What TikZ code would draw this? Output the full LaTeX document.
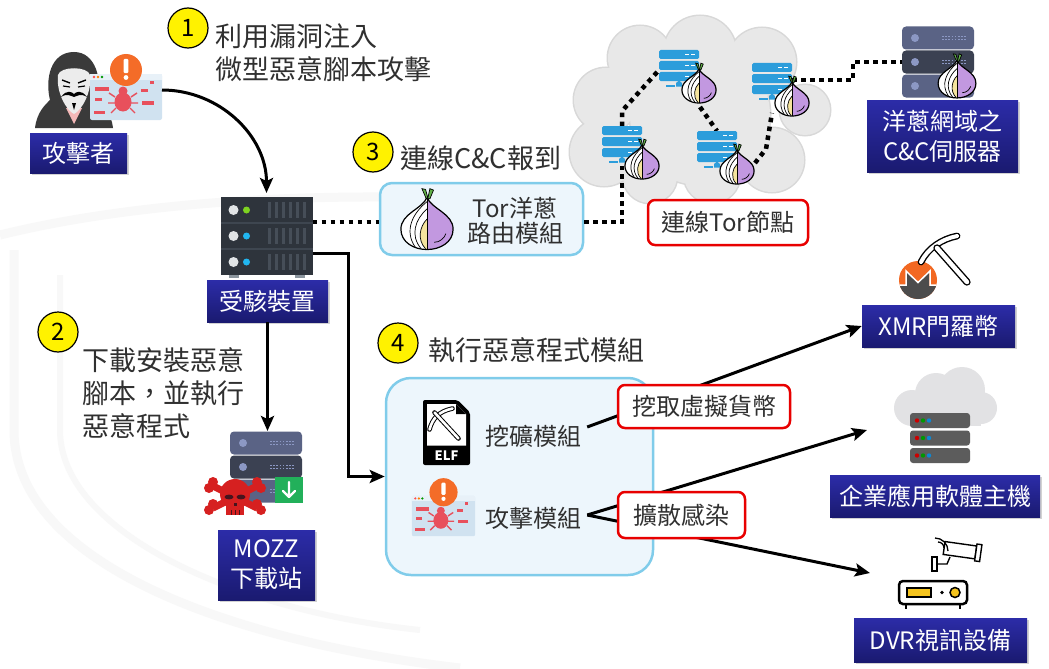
\documentclass[tikz,border=0pt]{standalone}
\usepackage{fontspec}
\setmainfont{Noto Sans CJK TC}
\usetikzlibrary{arrows.meta,calc,shadows}

\definecolor{navytop}{RGB}{44,44,168}
\definecolor{navybot}{RGB}{26,26,112}
\definecolor{modedge}{RGB}{128,204,234}
\definecolor{modfill}{RGB}{237,246,252}
\definecolor{torblue}{RGB}{44,157,219}
\definecolor{onionpurple}{RGB}{194,152,224}
\definecolor{onionyellow}{RGB}{245,228,158}
\definecolor{sprout}{RGB}{96,176,72}
\definecolor{txtgray}{RGB}{48,48,48}
\definecolor{cloudgray}{RGB}{232,232,232}
\definecolor{cloudedge}{RGB}{216,216,216}
\definecolor{srvdark}{RGB}{46,52,60}
\definecolor{srvsep}{RGB}{62,70,80}
\definecolor{srvbar}{RGB}{70,78,88}
\definecolor{srvlight}{RGB}{225,228,230}
\definecolor{srvfoot}{RGB}{140,150,158}
\definecolor{ledgreen}{RGB}{126,211,33}
\definecolor{ledblue}{RGB}{33,182,240}
\definecolor{slatelight}{RGB}{90,99,133}
\definecolor{slatedark}{RGB}{59,65,82}
\definecolor{slatedot}{RGB}{140,152,196}
\definecolor{dlgreen}{RGB}{34,176,90}
\definecolor{skullred}{RGB}{214,32,32}
\definecolor{skulldark}{RGB}{70,20,30}
\definecolor{winblue}{RGB}{208,226,240}
\definecolor{winbar}{RGB}{232,241,248}
\definecolor{bugred}{RGB}{232,80,92}
\definecolor{alertorange}{RGB}{244,108,40}
\definecolor{hood}{RGB}{58,58,58}
\definecolor{maskwhite}{RGB}{236,236,236}
\definecolor{maskpink}{RGB}{244,184,184}
\definecolor{monorange}{RGB}{242,104,34}
\definecolor{monogray}{RGB}{76,76,76}
\definecolor{entgray}{RGB}{92,92,92}
\definecolor{entcloud}{RGB}{226,226,228}
\definecolor{dvryellow}{RGB}{245,196,30}
\definecolor{tagred}{RGB}{232,0,0}
\definecolor{wmark}{RGB}{248,248,248}

\tikzset{
  navybox/.style={top color=navytop, bottom color=navybot, text=white,
    font=\fontsize{24}{30}\selectfont, align=center, inner sep=0pt,
    drop shadow={shadow xshift=2pt, shadow yshift=-2pt, opacity=0.35}},
  redtag/.style={draw=tagred, line width=2.5pt, fill=white, rounded corners=7pt,
    font=\fontsize{24}{30}\selectfont, text=txtgray, inner sep=0pt},
  stepnum/.style={circle, draw=black, line width=1.2pt, fill=yellow,
    minimum size=40pt, inner sep=0pt, font=\fontsize{24}{24}\selectfont},
  steptext/.style={anchor=west, align=left, text=txtgray,
    font=\fontsize{27}{33}\selectfont, inner sep=0pt},
  bodytext/.style={font=\fontsize{24}{26}\selectfont, align=center, text=txtgray, inner sep=0pt},
  spot/.style={inner sep=0pt, outer sep=0pt},
  arr/.style={line width=3pt, -{Stealth[length=15pt, width=13pt, inset=3pt]}},
  dotline/.style={line width=4.5pt, dash pattern=on 4.5pt off 4.5pt},
  % onion of the Tor logo, about 36 wide
  pics/onion/.style={code={
    \fill[white] (0,-17) .. controls (-3,-9) and (-18,-6) .. (-18,5) .. controls (-18,14) and (-9,19) .. (0,19) -- cycle;
    \fill[onionpurple] (0,-17) .. controls (3,-9) and (18,-6) .. (18,5) .. controls (18,14) and (9,19) .. (0,19) -- cycle;
    \fill[onionyellow] (0,-2) .. controls (-5,3) and (-7,12) .. (-1,18.5) -- (0,18.5) -- cycle;
    \draw[line width=0.7pt] (0,-2) .. controls (-5,3) and (-7,12) .. (-1,18.5);
    \draw[line width=0.7pt] (0,-9) .. controls (-8,-2) and (-12,9) .. (-4,18.5);
    \draw[line width=0.7pt] (0,-14) .. controls (-10,-6) and (-16,6) .. (-8,17.5);
    \draw[line width=0.7pt] (5,14) .. controls (9,14) and (12,11) .. (13,8);
    \draw[line width=1.2pt] (0,-17) .. controls (-3,-9) and (-18,-6) .. (-18,5) .. controls (-18,14) and (-9,19) .. (0,19) .. controls (9,19) and (18,14) .. (18,5) .. controls (18,-6) and (3,-9) .. (0,-17) -- cycle;
    \draw[line width=0.8pt] (0,-17) -- (0,19);
    \filldraw[fill=sprout, line width=0.7pt] (-0.5,-16) -- (-3.5,-23) -- (-1,-22.5) -- (0.5,-17) -- cycle;
    \filldraw[fill=sprout, line width=0.7pt] (0.5,-16) -- (2,-23) -- (4.5,-22) -- (2,-16) -- cycle;
  }},
  % blue relay server with its onion
  pics/tornode/.style={code={
    \foreach \yy in {-16,-5,6}{
      \fill[torblue, rounded corners=1.5pt] (-20,\yy) rectangle (20,\yy+9);
      \fill[white] (6,\yy+3.8) rectangle (10,\yy+5.2);
      \fill[white] (12,\yy+3.8) rectangle (16,\yy+5.2);
    }
    \fill[torblue] (-13,19) rectangle (-4,20.5);
    \fill[torblue] (-3,17) -- (0,14.5) -- (3,17) -- (3,20.5) -- (-3,20.5) -- cycle;
    \pic[scale=0.95] at (20,19) {onion};
  }},
  % dark rack server
  pics/darkserver/.style={code={
    \fill[srvfoot] (-38,38) rectangle (-28,42);
    \fill[srvfoot] (28,38) rectangle (38,42);
    \fill[srvdark] (-46,-39) rectangle (46,39);
    \fill[srvsep] (-46,-14) rectangle (46,-12);
    \fill[srvsep] (-46,12) rectangle (46,14);
    \foreach \yy/\cc in {-26/ledgreen,0/ledblue,26/ledblue}{
      \fill[srvlight] (-33,\yy) circle (5);
      \fill[\cc] (-20,\yy) circle (3.5);
      \foreach \xx in {1,8,...,36} \fill[srvbar] (\xx,\yy-8) rectangle (\xx+3.5,\yy+8);
    }
  }},
  % slate server rack (download site, C&C)
  pics/slateserver/.style={code={
    \foreach \yy/\cc in {-24/slatelight,0/slatedark,24/slatelight}{
      \fill[\cc, rounded corners=4pt] (-36,\yy-11.5) rectangle (36,\yy+11.5);
      \fill[slatedot] (-23,\yy) circle (4);
      \draw[slatedot, line width=1.6pt, dash pattern=on 1.6pt off 1.6pt] (4,\yy-1.6) -- (28,\yy-1.6) (4,\yy+1.6) -- (28,\yy+1.6);
    }
  }},
  % skull and crossbones
  pics/skull/.style={code={
    \foreach \ax/\ay in {-1/-1,-1/1,1/-1,1/1}{
      \draw[skullred, line width=7pt] (0,0) -- (\ax*22,\ay*11);
      \fill[skullred] (\ax*22,\ay*11-4) circle (5);
      \fill[skullred] (\ax*26,\ay*11+2) circle (5);
    }
    \fill[skullred] (0,-3) circle (15);
    \fill[skullred] (-9,6) rectangle (9,18);
    \fill[skulldark] (-6,0) ellipse (4.5 and 2.4);
    \fill[skulldark] (6,0) ellipse (4.5 and 2.4);
    \fill[skulldark] (-1.5,6) rectangle (1.5,9);
    \draw[skulldark, line width=1pt] (-4,13) -- (-4,18) (0,13) -- (0,18) (4,13) -- (4,18);
  }},
  % browser window with a bug and a warning sign
  pics/bugwin/.style={code={
    \fill[winblue, rounded corners=2pt] (-36,-23) rectangle (36,23);
    \fill[winbar] (-36,-23) rectangle (36,-17);
    \fill[red!70] (-32,-20) circle (1.4);
    \fill[orange] (-28,-20) circle (1.4);
    \fill[green!60!black] (-24,-20) circle (1.4);
    \fill[bugred] (-31,-10) rectangle (-17,-6);
    \fill[bugred] (-31,1) rectangle (-24,4);
    \fill[bugred] (-32,14) rectangle (-21,17);
    \fill[bugred] (15,-8) rectangle (22,-5);
    \fill[bugred] (16,4) rectangle (28,8);
    \fill[bugred] (24,-16) rectangle (28,-13);
    \draw[bugred, line width=1.4pt] (-11,0) -- (-17,-4) (-11,6) -- (-18,6) (-10,11) -- (-15,16)
      (5,0) -- (11,-4) (5,6) -- (12,6) (4,11) -- (9,16);
    \fill[bugred] (-3,5) ellipse (8.5 and 9.5);
    \fill[bugred] (-3,-6) circle (4.5);
    \fill[alertorange] (0,-27) circle (16);
    \fill[white, rounded corners=1pt] (-2.3,-38) rectangle (2.3,-24);
    \fill[white] (0,-19.5) circle (2.4);
  }},
  % executable file holding a pickaxe
  pics/elffile/.style={code={
    \fill[black, rounded corners=2pt] (-23.5,-32.5) -- (11,-32.5) -- (23.5,-20) -- (23.5,32.5) -- (-23.5,32.5) -- cycle;
    \fill[white] (-19.5,-28.5) -- (9.5,-28.5) -- (19.5,-18.5) -- (19.5,13) -- (-19.5,13) -- cycle;
    \fill[black] (9.5,-28.5) -- (9.5,-18.5) -- (19.5,-18.5) -- cycle;
    \draw[line width=1pt, double=white, double distance=2.6pt, line cap=round] (-17,-3) .. controls (-14,-14) and (-8,-21) .. (6,-24);
    \draw[line width=1pt, double=white, double distance=2.6pt, line cap=round] (-12,-20) -- (12,6);
    \node[text=white, font=\fontsize{13}{13}\selectfont\bfseries, inner sep=0pt] (elfname) at (0,23) {ELF};
  }},
}

\begin{document}
\begin{tikzpicture}[x=1pt, y=-1pt]
\useasboundingbox (0,0) rectangle (1049,669);
\fill[white] (0,0) rectangle (1049,669);

% faint shield in the background
\draw[wmark, line width=9pt] (14,250) -- (14,430) .. controls (14,560) and (220,640) .. (460,668);
\draw[wmark, line width=9pt] (0,235) .. controls (150,198) and (360,188) .. (570,205);
\draw[wmark, line width=6pt] (60,275) -- (60,430) .. controls (60,530) and (230,610) .. (420,630);

% Tor network cloud
\foreach \cx/\cy/\cr in {640/58/32, 700/52/36, 762/62/34, 606/100/32, 604/152/34, 650/176/27, 712/175/28, 772/160/32, 805/110/25, 700/115/70}
  \draw[cloudedge, line width=3pt] (\cx,\cy) circle (\cr);
\foreach \cx/\cy/\cr in {640/58/32, 700/52/36, 762/62/34, 606/100/32, 604/152/34, 650/176/27, 712/175/28, 772/160/32, 805/110/25, 700/115/70}
  \fill[cloudgray] (\cx,\cy) circle (\cr);

% anchors of the drawn items
\node[spot, minimum width=127pt, minimum height=76pt] (attacker) at (98.5,90) {};
\node[spot, minimum width=92pt, minimum height=78pt] (victim) at (266.5,236) {};
\node[spot, minimum width=72pt, minimum height=72pt] (mozz) at (266,467) {};
\node[spot, minimum width=40pt, minimum height=40pt] (n1) at (679,70) {};
\node[spot, minimum width=40pt, minimum height=40pt] (n2) at (622,146) {};
\node[spot, minimum width=40pt, minimum height=40pt] (n3) at (717,151) {};
\node[spot, minimum width=40pt, minimum height=40pt] (n4) at (772,83) {};
\node[spot, minimum width=50pt, minimum height=50pt] (cc) at (938,62) {};
\node[spot, minimum width=110pt, minimum height=90pt] (ent) at (940,420) {};
\node[spot, minimum width=84pt, minimum height=74pt] (dvr) at (940,570) {};

% boxes
\node[draw=modedge, line width=2.5pt, fill=modfill, rounded corners=12pt,
      minimum width=203pt, minimum height=72pt] (torbox) at (481.5,219) {};
\node[draw=modedge, line width=2.5pt, fill=modfill, rounded corners=25pt,
      minimum width=267pt, minimum height=197pt] (modbox) at (519.5,476.5) {};

% Tor circuit
\draw[dotline] ($(victim.east)+(0,-14)$) -- ($(torbox.west)+(0,3)$);
\draw[dotline] ($(torbox.east)+(0,3)$) -| (n2.south);
\draw[dotline] (n2.north) -- ++(0,-15) -- (n1.west);
\draw[dotline] ($(n1.center)+(21,37)$) -- (n3.north);
\draw[dotline] ($(n3.center)+(38,12)$) -- ++(11,-14) -- ($(n4.south)+(0,10)$);
\draw[dotline] ($(n4.east)+(0,-3)$) -- ++(61,0) |- (cc.west);

% relays
\pic at (679,66) {tornode};
\pic at (622,142) {tornode};
\pic at (717,147) {tornode};
\pic at (772,79) {tornode};

% C&C server
\begin{scope}[shift={(938,62)}, scale=0.69]
  \pic {slateserver};
\end{scope}
\pic[scale=1.05] at (957,78) {onion};

% attacker
\fill[hood] (35,128) .. controls (37,112) and (45,105) .. (50,100) .. controls (45,80) and (50,52) .. (74,52)
  .. controls (96,52) and (102,80) .. (98,100) .. controls (103,105) and (111,112) .. (113,128) -- cycle;
\fill[maskpink] (66,108) -- (82,108) -- (74,124) -- cycle;
\fill[maskwhite] (58,75) .. controls (60,66) and (88,66) .. (90,75) .. controls (92,92) and (82,110) .. (74,114)
  .. controls (66,110) and (56,92) .. (58,75) -- cycle;
\draw[black, line width=1.4pt] (62,80) -- (70,83) (78,83) -- (86,80);
\draw[black, line width=1.2pt] (63,86) -- (70,87) (78,87) -- (85,86);
\fill[black] (61,97) .. controls (67,89) and (72,92) .. (74,94) .. controls (76,92) and (81,89) .. (87,97)
  .. controls (81,93) and (77,96) .. (74,97) .. controls (71,96) and (67,93) .. (61,97) -- cycle;
\fill[black] (72,103) -- (76,103) -- (74,110) -- cycle;
\pic at (126,97) {bugwin};

% victim server
\pic at (266.5,236) {darkserver};

% download site
\pic at (266,467) {slateserver};
\fill[dlgreen] (275,477) rectangle (303,503);
\draw[white, line width=2.2pt, line cap=round, line join=round] (289,482) -- (289,497) (283,491) -- (289,497) -- (295,491);
\pic at (235,497) {skull};

% Tor routing module icon
\pic[scale=1.45] at (427,222) {onion};

% malware module icons
\pic at (446.5,432.5) {elffile};
\pic[scale=0.88] at (443.5,516) {bugwin};

% Monero with pickaxe
\fill[monorange] (918,280) circle (19);
\begin{scope}
  \clip (918,280) circle (19);
  \fill[monogray] (898,286) -- (907,286) -- (907,272) -- (918,283) -- (929,272) -- (929,286) -- (938,286) -- (938,300) -- (898,300) -- cycle;
  \draw[white, line width=1.5pt] (898,285) -- (906,285) -- (906,271) -- (918,282.5) -- (930,271) -- (930,285) -- (938,285);
\end{scope}
\draw[line width=1.4pt, double=white, double distance=4pt, line cap=round] (921,262) .. controls (928,248) and (942,239) .. (957,236);
\draw[line width=1.4pt, double=white, double distance=4.5pt, line cap=round] (937,248) -- (967,282);

% enterprise host in the cloud
\foreach \cx/\cy/\cr in {912/408/18, 936/394/21, 962/390/23, 981/408/16}
  \fill[entcloud] (\cx,\cy) circle (\cr);
\fill[entcloud] (912,404) rectangle (981,426);
\foreach \yy in {413,430.5,448}{
  \fill[entgray, rounded corners=3pt] (910,\yy) rectangle (970,\yy+15);
  \fill[red!80!black] (917,\yy+7.5) circle (2.2);
  \fill[green!60!black] (923,\yy+7.5) circle (2.2);
  \fill[cyan!70!blue] (929,\yy+7.5) circle (2.2);
}

% DVR with camera
\draw[line width=2pt] (906,604) -- (906,609) (960,604) -- (960,609);
\draw[line width=2.5pt, fill=white, rounded corners=4pt] (899,581) rectangle (967,604);
\filldraw[fill=dvryellow, line width=1.5pt] (907,588) rectangle (931,597);
\fill (942,592.5) circle (1.8);
\filldraw[fill=dvryellow, line width=1.5pt] (955,592.5) circle (5);
\filldraw[fill=white, line width=1.4pt] (932,557) rectangle (937,571);
\draw[line width=1.4pt] (937,564) -- (947,564) -- (950,557);
\filldraw[fill=white, line width=1.4pt, rotate around={-8:(962,550)}] (944,544) rectangle (976,557);
\filldraw[fill=white, line width=1.4pt, rotate around={-8:(962,550)}] (976,542) rectangle (981,559);
\draw[line width=1.3pt] (938,542) to[bend left=45] (944,548);
\draw[line width=1.3pt] (935,538) to[bend left=45] (948,551);

% arrows
\draw[arr] (attacker.east) to[out=0, in=90] ($(victim.north)+(0,-4)$);
\node[navybox, minimum width=121pt, minimum height=42pt] (victimlbl) at (267.5,301) {受駭裝置};
\draw[arr] (victimlbl.south) -- (victimlbl.south |- mozz.north);
\draw[arr] ($(victim.east)+(0,17)$) -- ++(36,0) |- (modbox.west);

% module texts and outgoing arrows
\node[bodytext] (minetxt) at (533,436) {挖礦模組};
\node[bodytext] (atktxt) at (533,518) {攻擊模組};
\node[navybox, minimum width=153pt, minimum height=42pt] (xmr) at (938.5,326) {XMR門羅幣};
\draw[arr] ($(minetxt.east)+(6,-9)$) -- (xmr.west);
\draw[arr] ($(atktxt.east)+(6,-3)$) -- ($(ent.west)+(-18,10)$);
\draw[arr] ($(atktxt.east)+(6,-3)$) -- ($(dvr.west)+(-28,3)$);

% text in the Tor module
\node[bodytext, font=\fontsize{24}{25}\selectfont] (tortxt) at (515,221) {Tor洋蔥\\路由模組};

% labels
\node[navybox, minimum width=97pt, minimum height=40pt] (attlbl) at (78.5,153) {攻擊者};
\node[navybox, minimum width=151pt, minimum height=72pt] (cclbl) at (942.5,136) {洋蔥網域之\\C\&C伺服器};
\node[navybox, minimum width=97pt, minimum height=70pt] (mozzlbl) at (266.5,565) {MOZZ\\下載站};
\node[navybox, minimum width=210pt, minimum height=42pt] (entlbl) at (935,496) {企業應用軟體主機};
\node[navybox, minimum width=173pt, minimum height=44pt] (dvrlbl) at (940.5,640) {DVR視訊設備};

% red tags
\node[redtag, minimum width=160pt, minimum height=45pt] (tagtor) at (728,222.5) {連線Tor節點};
\node[redtag, minimum width=172pt, minimum height=43pt] (tagmine) at (704,406.5) {挖取虛擬貨幣};
\node[redtag, minimum width=127pt, minimum height=46pt] (tagspread) at (681.5,515) {擴散感染};

% steps
\node[stepnum] (s1) at (188,28) {1};
\node[steptext] (t1) at (215,52.5) {利用漏洞注入\\微型惡意腳本攻擊};
\node[stepnum] (s2) at (58,332) {2};
\node[steptext] (t2) at (82,393) {下載安裝惡意\\腳本，並執行\\惡意程式};
\node[stepnum] (s3) at (373,152) {3};
\node[steptext] (t3) at (400,158) {連線C\&C報到};
\node[stepnum] (s4) at (398,343) {4};
\node[steptext] (t4) at (428,350) {執行惡意程式模組};
\end{tikzpicture}
\end{document}
